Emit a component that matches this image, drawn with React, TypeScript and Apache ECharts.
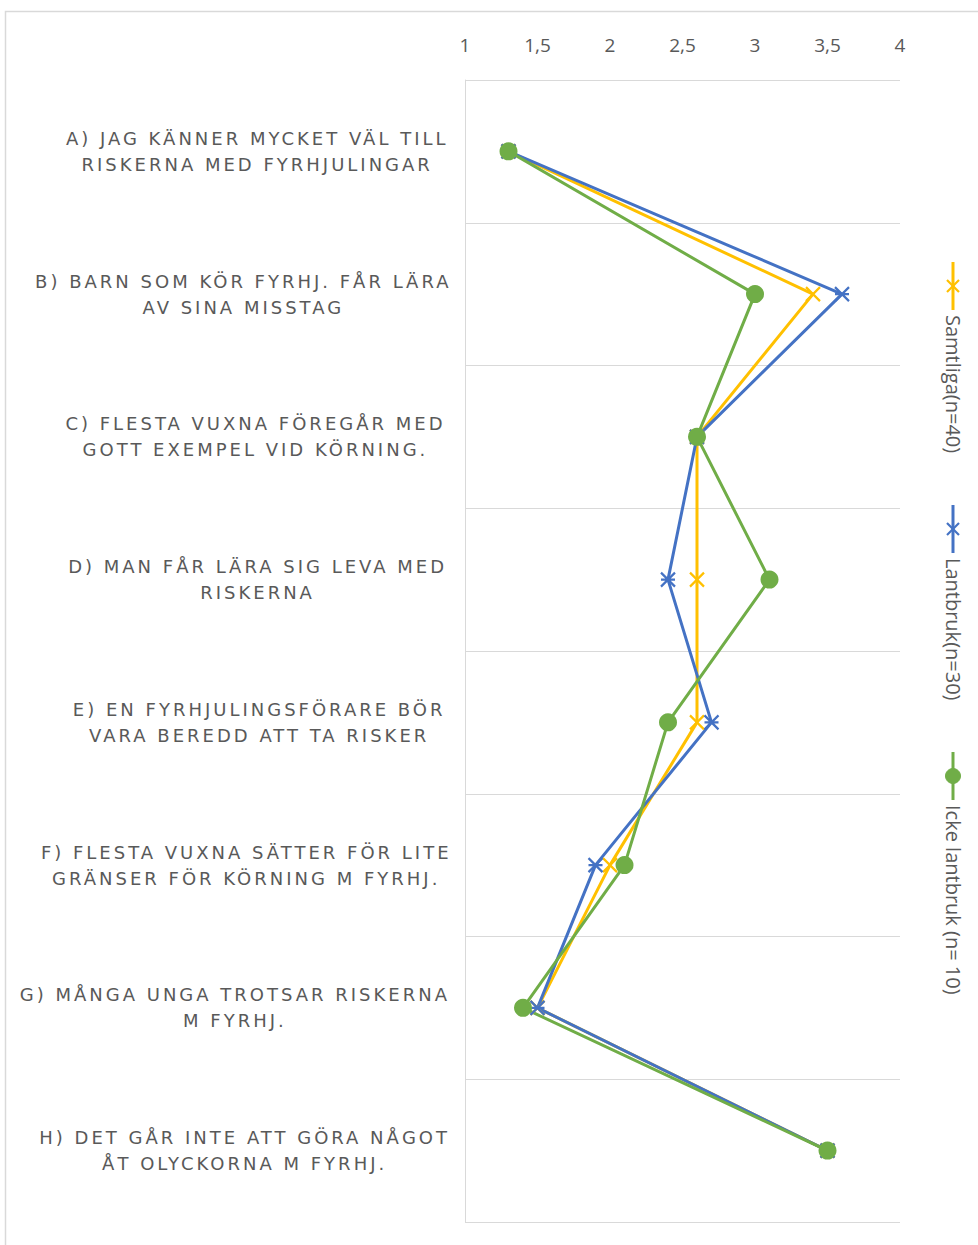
import React, { useEffect, useRef } from "react";
import * as echarts from "echarts";

const categories = [
  "A) JAG KÄNNER MYCKET VÄL TILL\nRISKERNA MED FYRHJULINGAR",
  "B) BARN SOM KÖR FYRHJ. FÅR LÄRA\nAV SINA MISSTAG",
  "C) FLESTA VUXNA FÖREGÅR MED\nGOTT EXEMPEL VID KÖRNING.",
  "D) MAN FÅR LÄRA SIG LEVA MED\nRISKERNA",
  "E) EN FYRHJULINGSFÖRARE BÖR\nVARA BEREDD ATT TA RISKER",
  "F) FLESTA VUXNA SÄTTER FÖR LITE\nGRÄNSER FÖR KÖRNING M FYRHJ.",
  "G) MÅNGA UNGA TROTSAR RISKERNA\nM FYRHJ.",
  "H) DET GÅR INTE ATT GÖRA NÅGOT\nÅT OLYCKORNA M FYRHJ.",
];

const seriesNames = ["Samtliga(n=40)", "Lantbruk(n=30)", "Icke lantbruk (n= 10)"];
const samtliga = [1.3, 3.4, 2.6, 2.6, 2.6, 2.0, 1.5, 3.5];
const lantbruk = [1.3, 3.6, 2.6, 2.4, 2.7, 1.9, 1.5, 3.5];
const ickeLantbruk = [1.3, 3.0, 2.6, 3.1, 2.4, 2.1, 1.4, 3.5];

const xMin = 1;
const xMax = 4;
const xInterval = 0.5;

const YELLOW = "#FFC000";
const BLUE = "#4472C4";
const GREEN = "#70AD47";
const TEXT = "#595959";
const GRIDC = "#d9d9d9";

const X_SYMBOL = "path://M0,0L10,10M10,0L0,10";
const STAR_SYMBOL = "path://M0,0L10,10M10,0L0,10M0,5L10,5";

function legendItem(x: number, y0: number, color: string, kind: string, label: string) {
  const children: any[] = [
    {
      type: "line",
      shape: { x1: x, y1: y0, x2: x, y2: y0 + 48 },
      style: { stroke: color, lineWidth: 3 },
    },
  ];
  const cy = y0 + 24;
  if (kind === "circle") {
    children.push({
      type: "circle",
      shape: { cx: x, cy, r: 7.5 },
      style: { fill: color, stroke: color },
    });
  } else {
    children.push({
      type: "line",
      shape: { x1: x - 6, y1: cy - 6, x2: x + 6, y2: cy + 6 },
      style: { stroke: color, lineWidth: 2.2 },
    });
    children.push({
      type: "line",
      shape: { x1: x + 6, y1: cy - 6, x2: x - 6, y2: cy + 6 },
      style: { stroke: color, lineWidth: 2.2 },
    });
  }
  children.push({
    type: "text",
    x: x,
    y: y0 + 53,
    rotation: -Math.PI / 2,
    style: {
      text: label,
      fill: TEXT,
      fontSize: 20,
      fontFamily: "'Open Sans', sans-serif",
      align: "left",
      verticalAlign: "middle",
    },
  });
  return { type: "group", children };
}

export default function App() {
  const ref = useRef<HTMLDivElement>(null);
  useEffect(() => {
    if (!ref.current) return;
    const chart = echarts.init(ref.current, null, { renderer: "svg" });
    const option: any = {
      animation: false,
      backgroundColor: "#ffffff",
      grid: { left: 465, right: 78, top: 80, bottom: 23, containLabel: false },
      xAxis: {
        type: "value",
        position: "top",
        min: xMin,
        max: xMax,
        interval: xInterval,
        axisLine: { show: false },
        axisTick: { show: false },
        splitLine: { show: false },
        axisLabel: {
          color: TEXT,
          fontSize: 19,
          fontFamily: "'Open Sans', sans-serif",
          margin: 26,
          formatter: (v: number) => String(v).replace(".", ","),
        },
      },
      yAxis: {
        type: "category",
        inverse: true,
        data: categories,
        boundaryGap: true,
        axisLine: { show: true, lineStyle: { color: GRIDC, width: 1 } },
        axisTick: { show: false },
        splitLine: { show: true, lineStyle: { color: GRIDC, width: 1 } },
        axisLabel: {
          margin: 60,
          align: "right",
          formatter: (v: string) =>
            v
              .split("\n")
              .map((l) => "{c|" + l + "}")
              .join("\n"),
          rich: {
            c: {
              align: "center",
              color: TEXT,
              fontSize: 18,
              lineHeight: 26,
              fontFamily: "'DejaVu Sans', sans-serif",
            },
          },
        },
      },
      series: [
        {
          name: seriesNames[0],
          type: "line",
          data: samtliga,
          symbol: X_SYMBOL,
          symbolSize: 14,
          lineStyle: { color: YELLOW, width: 3 },
          itemStyle: { color: YELLOW, borderColor: YELLOW, borderWidth: 2.2 },
        },
        {
          name: seriesNames[1],
          type: "line",
          data: lantbruk,
          symbol: STAR_SYMBOL,
          symbolSize: 14,
          lineStyle: { color: BLUE, width: 3 },
          itemStyle: { color: BLUE, borderColor: BLUE, borderWidth: 2.2 },
        },
        {
          name: seriesNames[2],
          type: "line",
          data: ickeLantbruk,
          symbol: "circle",
          symbolSize: 18,
          lineStyle: { color: GREEN, width: 3 },
          itemStyle: { color: GREEN, borderColor: GREEN, borderWidth: 0 },
        },
      ],
      graphic: [
        {
          type: "rect",
          shape: { x: 5.5, y: 11.5, width: 1200, height: 1400 },
          style: { fill: "none", stroke: GRIDC, lineWidth: 1.5 },
          silent: true,
          z: -1,
        },
        legendItem(953, 262, YELLOW, "x", seriesNames[0]),
        legendItem(953, 505, BLUE, "star", seriesNames[1]),
        legendItem(953, 752, GREEN, "circle", seriesNames[2]),
      ],
    };
    chart.setOption(option);
    return () => chart.dispose();
  }, []);
  return (
    <>
      <style>{'svg text[style*="DejaVu Sans"] { letter-spacing: 3px; }'}</style>
      <div
        ref={ref}
        style={{
          position: "fixed",
          left: 0,
          top: 0,
          width: 978,
          height: 1245,
          overflow: "hidden",
          background: "#fff",
        }}
      />
    </>
  );
}
